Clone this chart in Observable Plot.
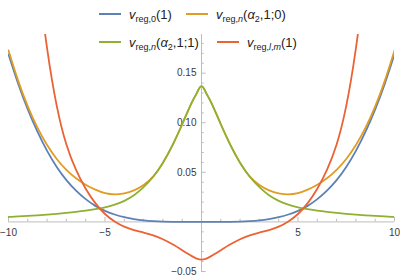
<!DOCTYPE html>
<html>
<head>
<meta charset="utf-8">
<script src="https://cdn.jsdelivr.net/npm/d3@7"></script>
<script src="https://cdn.jsdelivr.net/npm/@observablehq/plot@0.6"></script>
<style>
  html, body { margin: 0; padding: 0; background: #fff; }
  #wrap { position: relative; width: 400px; height: 280px; font-family: "Liberation Sans", Arial, sans-serif; }
  #chart { position: absolute; left: 0; top: 0; }
  .item { position: absolute; height: 20px; display: flex; align-items: center; font-size: 13px; color: #222; white-space: nowrap; }
  .sw { width: 22px; height: 2px; margin-right: 8px; }
  .sub { font-size: 9px; position: relative; top: 3px; }
  i { font-style: italic; }
</style>
</head>
<body>
<div id="wrap">
  <div id="chart"></div>
  <div id="legend"></div>
</div>
<script>
// ---- data ----
const xs = [-10,-9.5,-9,-8.5,-8,-7.5,-7,-6.5,-6,-5.5,-5,-4.5,-4,-3.5,-3,-2.5,-2,-1.5,-1,-0.5,-0.25,0,
            0.25,0.5,1,1.5,2,2.5,3,3.5,4,4.5,5,5.5,6,6.5,7,7.5,8,8.5,9,9.5,10];
const blueY = [0.169,0.1395,0.1135,0.091,0.0717,0.0555,0.0422,0.0316,0.023,0.0162,0.0112,0.0075,0.0048,0.0029,0.0016,0.0008,0.0003,0.0001,0,0,0,0,
               0,0,0,0.0001,0.0003,0.0008,0.0016,0.0029,0.0048,0.0075,0.0112,0.0162,0.023,0.0316,0.0422,0.0555,0.0717,0.091,0.1135,0.1395,0.169];
const orangeY = [0.173,0.1425,0.1165,0.095,0.0775,0.0635,0.0525,0.044,0.0375,0.0325,0.029,0.0278,0.0288,0.0318,0.0372,0.046,0.0598,0.0775,0.0985,0.1205,0.1297,0.137,
                 0.1297,0.1205,0.0985,0.0775,0.0598,0.046,0.0372,0.0318,0.0288,0.0278,0.029,0.0325,0.0375,0.044,0.0525,0.0635,0.0775,0.095,0.1165,0.1425,0.173];
const greenY = [0.005,0.0055,0.0061,0.0067,0.0074,0.0082,0.0091,0.0101,0.0113,0.0128,0.0147,0.0174,0.0212,0.0268,0.035,0.0455,0.0595,0.0775,0.0985,0.1205,0.1297,0.137,
                0.1297,0.1205,0.0985,0.0775,0.0595,0.0455,0.035,0.0268,0.0212,0.0174,0.0147,0.0128,0.0113,0.0101,0.0091,0.0082,0.0074,0.0067,0.0061,0.0055,0.005];
const redX = [-8.5,-8,-7.5,-7,-6.5,-6,-5.5,-5,-4.5,-4,-3.5,-3,-2.5,-2,-1.5,-1,-0.5,-0.25,0,
              0.25,0.5,1,1.5,2,2.5,3,3.5,4,4.5,5,5.5,6,6.5,7,7.5,8,8.5];
const redY = [0.25,0.175,0.117,0.078,0.0525,0.0335,0.019,0.008,0.0005,-0.0048,-0.0082,-0.0107,-0.0135,-0.0175,-0.0226,-0.0285,-0.0345,-0.037,-0.038,
              -0.037,-0.0345,-0.0285,-0.0226,-0.0175,-0.0135,-0.0107,-0.0082,-0.0048,0.0005,0.008,0.019,0.0335,0.0525,0.078,0.117,0.175,0.25];

const seriesColors = ["#5E81B5", "#E19C24", "#8FB032", "#EB6235"];

const xTickValues = [-10, -5, 5, 10];
const xTickLabels = ["−10", "−5", "5", "10"];
const xMinorTicks = [-9,-8,-7,-6,-4,-3,-2,-1,1,2,3,4,6,7,8,9];
const yTickValues = [-0.05, 0.05, 0.10, 0.15];
const yTickLabels = ["−0.05", "0.05", "0.10", "0.15"];
const yMinorTicks = [-0.04,-0.03,-0.02,-0.01,0.01,0.02,0.03,0.04,0.06,0.07,0.08,0.09,0.11,0.12,0.13,0.14,0.16,0.17,0.18];

// ---- build tables ----
const toRows = (X, Y) => X.map((x, i) => ({x, y: Y[i]}));
const blue = toRows(xs, blueY), orange = toRows(xs, orangeY), green = toRows(xs, greenY), red = toRows(redX, redY);

const axisColor = "#bdbdbd";
const labelColor = "#3a3a3a";
const lineOpts = (color) => ({x: "x", y: "y", stroke: color, strokeWidth: 1.8, curve: "natural", clip: true});

const plot = Plot.plot({
  width: 400,
  height: 280,
  marginLeft: 8,
  marginRight: 6,
  marginTop: 34,
  marginBottom: 8.5,
  x: {domain: [-10, 10], axis: null},
  y: {domain: [-0.0505, 0.189], axis: null},
  style: {fontFamily: "'Liberation Sans', Arial, sans-serif", fontSize: "10px", background: "transparent"},
  marks: [
    Plot.ruleY([0], {stroke: axisColor, strokeWidth: 1}),
    Plot.ruleX([0], {stroke: axisColor, strokeWidth: 1}),
    Plot.ruleX(xTickValues, {x: d => d, y1: 0, y2: 0.0045, stroke: axisColor}),
    Plot.ruleX(xMinorTicks, {x: d => d, y1: 0, y2: 0.0027, stroke: axisColor}),
    Plot.ruleY(yTickValues, {y: d => d, x1: 0, x2: 0.24, stroke: axisColor}),
    Plot.ruleY(yMinorTicks, {y: d => d, x1: 0, x2: 0.14, stroke: axisColor}),
    Plot.text(xTickValues, {x: d => d, y: 0, text: (d, i) => xTickLabels[i], dy: 11, fill: labelColor, fontSize: 10, textAnchor: "middle"}),
    Plot.text(yTickValues, {x: 0, y: d => d, text: (d, i) => yTickLabels[i], dx: -5, fill: labelColor, fontSize: 10, textAnchor: "end"}),
    Plot.line(blue, lineOpts(seriesColors[0])),
    Plot.line(orange, lineOpts(seriesColors[1])),
    Plot.line(green, lineOpts(seriesColors[2])),
    Plot.line(red, lineOpts(seriesColors[3]))
  ]
});
document.getElementById("chart").appendChild(plot);

// ---- legend (HTML overlay) ----
const legendItems = [
  {left: 99, top: 4, color: seriesColors[0], html: '<i>v</i><span class="sub">reg,0</span>(1)'},
  {left: 186, top: 4, color: seriesColors[1], html: '<i>v</i><span class="sub">reg,<i>n</i></span>(<i>α</i><span class="sub">2</span>,1;0)'},
  {left: 99, top: 32, color: seriesColors[2], html: '<i>v</i><span class="sub">reg,<i>n</i></span>(<i>α</i><span class="sub">2</span>,1;1)'},
  {left: 217, top: 32, color: seriesColors[3], html: '<i>v</i><span class="sub">reg,<i>l</i>,<i>m</i></span>(1)'}
];
const legend = document.getElementById("legend");
legendItems.forEach(it => {
  const d = document.createElement("div");
  d.className = "item";
  d.style.left = it.left + "px";
  d.style.top = it.top + "px";
  d.innerHTML = `<div class="sw" style="background:${it.color}"></div><span>${it.html}</span>`;
  legend.appendChild(d);
});
</script>
</body>
</html>
